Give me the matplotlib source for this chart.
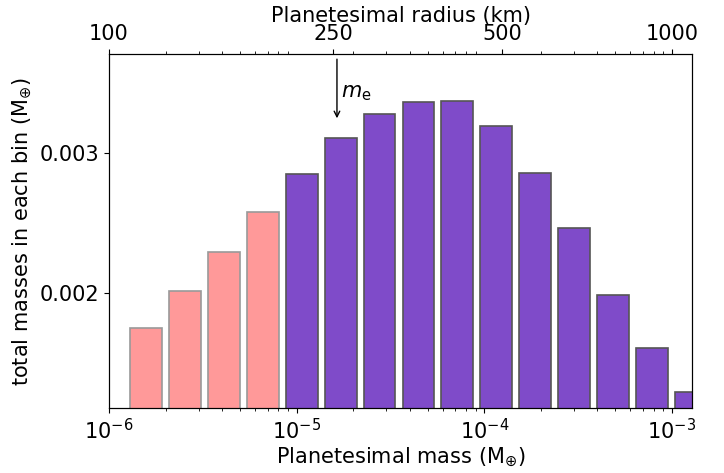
import matplotlib
matplotlib.use("Agg")
import matplotlib.pyplot as plt
import numpy as np

# bin centres (Earth masses) and total mass in each bin
mass_centres = [1.578e-6, 2.543e-6, 4.099e-6, 6.606e-6, 1.065e-5, 1.716e-5,
                2.766e-5, 4.457e-5, 7.184e-5, 1.158e-4, 1.866e-4, 3.007e-4,
                4.847e-4, 7.812e-4, 1.259e-3]
total_mass = [0.001746, 0.002010, 0.002291, 0.002574, 0.002850, 0.003103,
              0.003274, 0.003364, 0.003371, 0.003189, 0.002855, 0.002460,
              0.001986, 0.001603, 0.001290]
n_pink = 4  # bins below the embryo mass

m_embryo = 1.64e-5
radius_ticks = [100, 250, 500, 1000]

def radius_to_mass(r):
    # 100 km <-> 1e-6 Earth masses, m ~ r^3
    return 1e-6 * (np.asarray(r) / 100.0) ** 3

fs = 15
fig = plt.figure(figsize=(7.24, 4.73), dpi=100)
ax = fig.add_axes([0.1506, 0.1364, 0.8052, 0.7494])

centres = np.array(mass_centres)
half = 10 ** (0.169 / 2)
lefts = centres / half
widths = centres * half - lefts

colors = ["#ff9999"] * n_pink + ["#7f4bc9"] * (len(centres) - n_pink)
edges = ["#999999"] * n_pink + ["#555555"] * (len(centres) - n_pink)
ax.bar(lefts, total_mass, width=widths, align="edge", color=colors,
       edgecolor=edges, linewidth=1.2)

ax.set_xscale("log")
ax.set_xlim(1e-6, 1.28e-3)
ax.set_ylim(0.001173, 0.003705)
ax.set_yticks([0.002, 0.003])
ax.set_yticklabels(["0.002", "0.003"])
ax.tick_params(labelsize=fs)
ax.set_xlabel(r"Planetesimal mass (M$_{\oplus}$)", fontsize=fs, labelpad=2)
ax.set_ylabel(r"total masses in each bin (M$_{\oplus}$)", fontsize=fs)

# vertical arrow marking the embryo mass
ax.annotate("", xy=(m_embryo, 0.003226), xytext=(m_embryo, 0.003688),
            arrowprops=dict(arrowstyle="->", color="k", lw=1))
ax.text(m_embryo * 1.05, 0.00343, r"$m_{\rm e}$", fontsize=fs,
        ha="left", va="center")

ax2 = ax.twiny()
ax2.set_xscale("log")
ax2.set_xlim(ax.get_xlim())
ax2.set_xticks(radius_to_mass(radius_ticks))
ax2.set_xticklabels([str(r) for r in radius_ticks])
ax2.tick_params(labelsize=fs)
ax2.set_xlabel("Planetesimal radius (km)", fontsize=fs, labelpad=2)

fig.savefig("out.png", dpi=100)
